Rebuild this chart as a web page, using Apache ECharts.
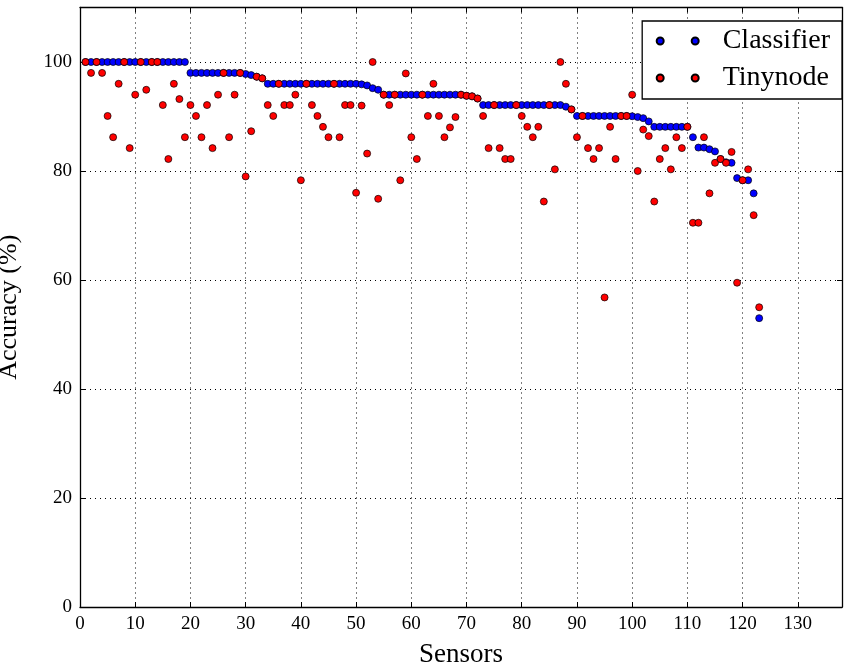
<!DOCTYPE html>
<html>
<head>
<meta charset="utf-8">
<script src="https://cdn.jsdelivr.net/npm/echarts@6/dist/echarts.min.js"></script>
<style>
  html, body { margin: 0; padding: 0; background: #fff; }
  #chart { width: 844px; height: 664px; }
</style>
</head>
<body>
<div id="chart"></div>
<script>
// Per-sensor accuracy (%), sensors numbered from 1, sorted by classifier accuracy
const classifierAcc = [
  100, 100, 100, 100, 100, 100, 100, 100, 100, 100,
  100, 100, 100, 100, 100, 100, 100, 100, 100, 98,
  98, 98, 98, 98, 98, 98, 98, 98, 98, 97.8,
  97.6, 97.3, 97.0, 96.0, 96.0, 96.0, 96.0, 96.0, 96.0, 96.0,
  96.0, 96.0, 96.0, 96.0, 96.0, 96.0, 96.0, 96.0, 96.0, 96.0,
  95.9, 95.7, 95.2, 94.9, 94.0, 94.0, 94.0, 94.0, 94.0, 94.0,
  94.0, 94.0, 94.0, 94.0, 94.0, 94.0, 94.0, 94.0, 94.0, 93.8,
  93.7, 93.3, 92.1, 92.1, 92.1, 92.1, 92.1, 92.1, 92.1, 92.1,
  92.1, 92.1, 92.1, 92.1, 92.1, 92.1, 92.1, 91.8, 91.3, 90.1,
  90.1, 90.1, 90.1, 90.1, 90.1, 90.1, 90.1, 90.1, 90.1, 90.05,
  89.9, 89.7, 89.1, 88.1, 88.1, 88.1, 88.1, 88.1, 88.1, 88.1,
  86.2, 84.3, 84.3, 84.0, 83.6, 82.2, 81.6, 81.5, 78.7, 78.3,
  78.3, 75.9, 53.0
];

const tinynodeAcc = [
  100, 98, 100, 98, 90.1, 86.2, 96.0, 100, 84.2, 94.0,
  100, 94.9, 100, 100, 92.1, 82.2, 96.0, 93.2, 86.2, 92.1,
  90.1, 86.2, 92.1, 84.2, 94.0, 98, 86.2, 94.0, 98, 79.0,
  87.3, 97.3, 97.0, 92.1, 90.1, 96.0, 92.1, 92.1, 94.0, 78.3,
  96.0, 92.1, 90.1, 88.1, 86.2, 96.0, 86.2, 92.1, 92.1, 76.0,
  92.0, 83.2, 100, 74.9, 94.0, 92.1, 94.0, 78.3, 97.9, 86.2,
  82.2, 94.0, 90.1, 96.0, 90.1, 86.2, 88.0, 89.9, 94.0, 93.8,
  93.7, 93.3, 90.1, 84.2, 92.1, 84.2, 82.2, 82.2, 92.1, 90.1,
  88.1, 86.2, 88.1, 74.4, 92.1, 80.3, 100, 96.0, 91.3, 86.2,
  90.1, 84.2, 82.2, 84.2, 56.8, 88.1, 82.2, 90.1, 90.1, 94.0,
  80.0, 87.6, 86.4, 74.4, 82.2, 84.2, 80.3, 86.2, 84.2, 88.1,
  70.5, 70.5, 86.2, 75.9, 81.5, 82.2, 81.5, 83.5, 59.5, 78.3,
  80.3, 71.9, 55.0
];

const seriesNames = ['Classifier', 'Tinynode'];
const seriesColors = ['#0000ff', '#ff0000'];
const xTickStep = 10;
const yTickStep = 20;

const FONT = 'Liberation Serif';

// pair each value with its sensor number (1-based position in the list)
const toPoints = arr => arr.map((v, i) => [i + 1, v]);

const chart = echarts.init(document.getElementById('chart'), null, { renderer: 'canvas' });

const tickStyle = { inside: true, length: 5, lineStyle: { color: '#000', width: 1 } };
const frameLine = { show: true, onZero: false, lineStyle: { color: '#000', width: 1.3 } };
const gridLine = { show: true, lineStyle: { color: '#000', width: 1, type: [1, 4] } };

// legend marker: two dots side by side
const twoDots = 'path://M0,3.5a3.5,3.5 0 1,0 7,0a3.5,3.5 0 1,0 -7,0zM35,3.5a3.5,3.5 0 1,0 7,0a3.5,3.5 0 1,0 -7,0z';

chart.setOption({
  animation: false,
  backgroundColor: '#fff',
  grid: { left: 80, right: 2, top: 7.5, bottom: 57, containLabel: false, outerBoundsMode: 'none' },
  legend: {
    orient: 'vertical',
    right: 2,
    top: 21,
    padding: [6, 12, 7, 13.5],
    itemGap: 9,
    itemWidth: 42,
    itemHeight: 7,
    icon: twoDots,
    backgroundColor: '#fff',
    borderColor: '#000',
    borderWidth: 1.3,
    borderRadius: 0,
    textStyle: { fontFamily: FONT, fontSize: 28, color: '#000', padding: [0, 0, 0, 19], lineHeight: 26 },
    data: seriesNames
  },
  xAxis: [
    {
      type: 'value', min: 0, max: 138, interval: xTickStep,
      position: 'bottom',
      name: 'Sensors', nameLocation: 'middle', nameGap: 34,
      nameTextStyle: { fontFamily: FONT, fontSize: 27, color: '#000' },
      axisLine: frameLine, axisTick: tickStyle,
      axisLabel: { fontFamily: FONT, fontSize: 19, color: '#000', margin: 8, showMaxLabel: false },
      splitLine: gridLine
    },
    {
      type: 'value', min: 0, max: 138, interval: xTickStep,
      position: 'top',
      axisLine: frameLine, axisTick: tickStyle,
      axisLabel: { show: false }, splitLine: { show: false }
    }
  ],
  yAxis: [
    {
      type: 'value', min: 0, max: 110, interval: yTickStep,
      position: 'left',
      name: 'Accuracy (%)', nameLocation: 'middle', nameGap: 58,
      nameTextStyle: { fontFamily: FONT, fontSize: 26, color: '#000' },
      axisLine: frameLine, axisTick: tickStyle,
      axisLabel: { fontFamily: FONT, fontSize: 19, color: '#000', margin: 8, showMaxLabel: false },
      splitLine: gridLine
    },
    {
      type: 'value', min: 0, max: 110, interval: yTickStep,
      position: 'right',
      axisLine: frameLine, axisTick: tickStyle,
      axisLabel: { show: false }, splitLine: { show: false }
    }
  ],
  series: [
    {
      name: seriesNames[0], type: 'scatter', xAxisIndex: 0, yAxisIndex: 0,
      symbol: 'circle', symbolSize: 7,
      itemStyle: { color: seriesColors[0], borderColor: '#000', borderWidth: 0.7, opacity: 1 },
      data: toPoints(classifierAcc), z: 2
    },
    {
      name: seriesNames[1], type: 'scatter', xAxisIndex: 0, yAxisIndex: 0,
      symbol: 'circle', symbolSize: 7,
      itemStyle: { color: seriesColors[1], borderColor: '#000', borderWidth: 0.7, opacity: 1 },
      data: toPoints(tinynodeAcc), z: 3
    }
  ]
});
</script>
</body>
</html>
